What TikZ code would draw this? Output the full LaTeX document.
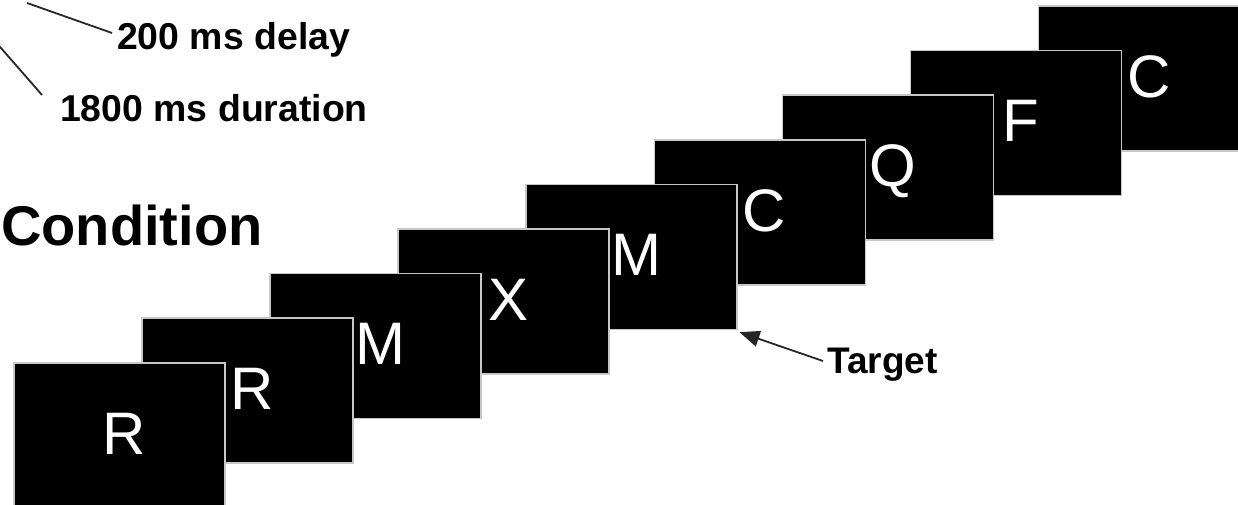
\documentclass[tikz,border=0pt]{standalone}
\usepackage{fontspec}
\setmainfont{Liberation Sans}
\usetikzlibrary{arrows.meta}
\tikzset{
  card/.style={fill=black, draw=black!22, line width=1.6pt, minimum width=211pt, minimum height=145pt, inner sep=0pt, anchor=north west},
  letter/.style={text=white, font=\fontsize{60}{60}\selectfont, anchor=base, inner sep=0pt},
  lbl/.style={font=\bfseries\fontsize{37.4}{40}\selectfont, anchor=base west, inner sep=0pt},
  lead/.style={line width=1.8pt, draw=black!85},
}
\begin{document}
\begin{tikzpicture}[x=1pt,y=-1pt]
\useasboundingbox (0,0) rectangle (1238,505);
\begin{scope}
\clip (0,0) rectangle (1238,505);
% cards, back to front
\foreach \i/\L in {8/C,7/F,6/Q,5/C,4/M,3/X,2/M,1/R,0/R}{
  \pgfmathsetmacro{\bx}{13+128.1*\i}
  \pgfmathsetmacro{\by}{362-44.6*\i}
  \node[card] (card\i) at (\bx,\by) {};
  \node[letter] (let\i) at (\bx+111,\by+92) {\L};
}
\end{scope}
% labels
\node[lbl] (delay) at (117,50) {200 ms delay};
\node[lbl] (dur) at (60,122) {1800 ms duration};
\node[font=\bfseries\fontsize{56}{60}\selectfont, anchor=base west, inner sep=0pt] (cond) at (1,245) {Condition};
\node[lbl, font=\bfseries\fontsize{37}{40}\selectfont] (tgt) at (827,373) {Target};
% leader lines
\coordinate (la0) at (27,3);
\coordinate (la1) at (112,33);
\coordinate (lb0) at (-6,40);
\coordinate (lb1) at (42,95);
\draw[lead] (la0) -- (la1);
\draw[lead] (lb0) -- (lb1);
% target arrow
\coordinate (tt) at (823,361);
\draw[lead, -{Triangle[length=20pt,width=16pt]}] (tt) -- ([shift={(1.5pt,-2pt)}]card4.south east);
\end{tikzpicture}
\end{document}
